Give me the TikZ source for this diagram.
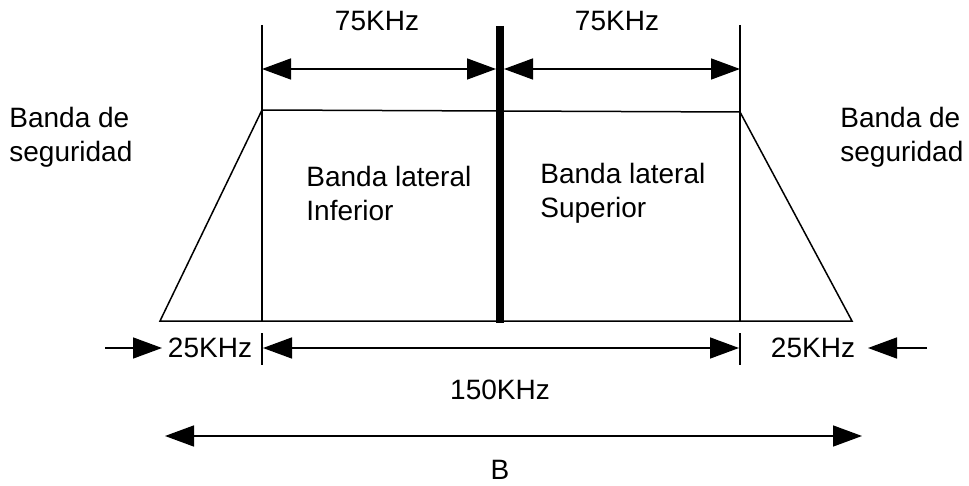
\documentclass[tikz,border=0pt]{standalone}
\usepackage{fontspec}
\setmainfont{Liberation Sans}
\usetikzlibrary{arrows.meta,positioning,calc}

\begin{document}
\begin{tikzpicture}[x=0.5pt,y=-0.5pt]
  % Styles
  \tikzset{bandline/.style={line width=0.75pt, black}}
  \tikzset{carrier/.style={line width=4pt, black}}
  \tikzset{dimarrow/.style={line width=0.75pt, {Triangle[length=14.5pt,width=10.5pt]}-{Triangle[length=14.5pt,width=10.5pt]}}}
  \tikzset{onearrow/.style={line width=0.75pt, -{Triangle[length=14.5pt,width=10.5pt]}}}
  \tikzset{lbl/.style={font=\fontsize{14}{17}\selectfont, inner sep=0pt, align=left}}
  \useasboundingbox (0,0) rectangle (969,486);

  % Trapezoid corners
  \coordinate (bl) at (160,321);
  \coordinate (tl) at (262,110);
  \coordinate (tr) at (740,112);
  \coordinate (br) at (852,321);
  \draw[bandline] (bl) -- (tl) -- (tr) -- (br) -- cycle;

  % Band edges
  \coordinate (lt) at (262,25);
  \coordinate (lb) at (262,321);
  \coordinate (rt) at (740,25);
  \coordinate (rb) at (740,321);
  \draw[bandline] (lt) -- (lb);
  \draw[bandline] (rt) -- (rb);

  % Carrier
  \coordinate (ct) at (500,26);
  \coordinate (cb) at (500,323);
  \draw[carrier] (ct) -- (cb);

  % 75KHz
  \coordinate (al) at (262,69);
  \coordinate (acl) at (496,69);
  \coordinate (acr) at (504,69);
  \coordinate (ar) at (740,69);
  \draw[dimarrow] (al) -- (acl);
  \draw[dimarrow] (acr) -- (ar);
  \node[lbl] (fLeft) at (377,21) {75KHz};
  \node[lbl] (fRight) at (617,21) {75KHz};

  % Labels
  \node[lbl, anchor=west] (gLeft) at (9,137) {Banda de\\seguridad};
  \node[lbl, anchor=west] (gRight) at (840,137) {Banda de\\seguridad};
  \node[lbl, anchor=west] (lInf) at (306,193) {Banda lateral\\Inferior};
  \node[lbl, anchor=west] (lSup) at (540,193) {Banda lateral\\Superior};

  % Ticks below base
  \coordinate (tlu) at (262,333);
  \coordinate (tld) at (262,365);
  \coordinate (tru) at (740,333);
  \coordinate (trd) at (740,365);
  \draw[bandline] (tlu) -- (tld);
  \draw[bandline] (tru) -- (trd);

  % 25KHz and 150KHz
  \coordinate (gl0) at (105,348);
  \coordinate (gl1) at (162,348);
  \coordinate (gr0) at (927,348);
  \coordinate (gr1) at (868,348);
  \coordinate (wl) at (263,348);
  \coordinate (wr) at (739,348);
  \draw[onearrow] (gl0) -- (gl1);
  \draw[onearrow] (gr0) -- (gr1);
  \draw[dimarrow] (wl) -- (wr);
  \node[lbl] (gwLeft) at (210,348) {25KHz};
  \node[lbl] (gwRight) at (813,348) {25KHz};
  \node[lbl] (wTotal) at (500,390) {150KHz};

  % B
  \coordinate (bw0) at (165,436);
  \coordinate (bw1) at (862,436);
  \draw[dimarrow] (bw0) -- (bw1);
  \node[lbl] (bTotal) at (500,470) {B};
\end{tikzpicture}
\end{document}
